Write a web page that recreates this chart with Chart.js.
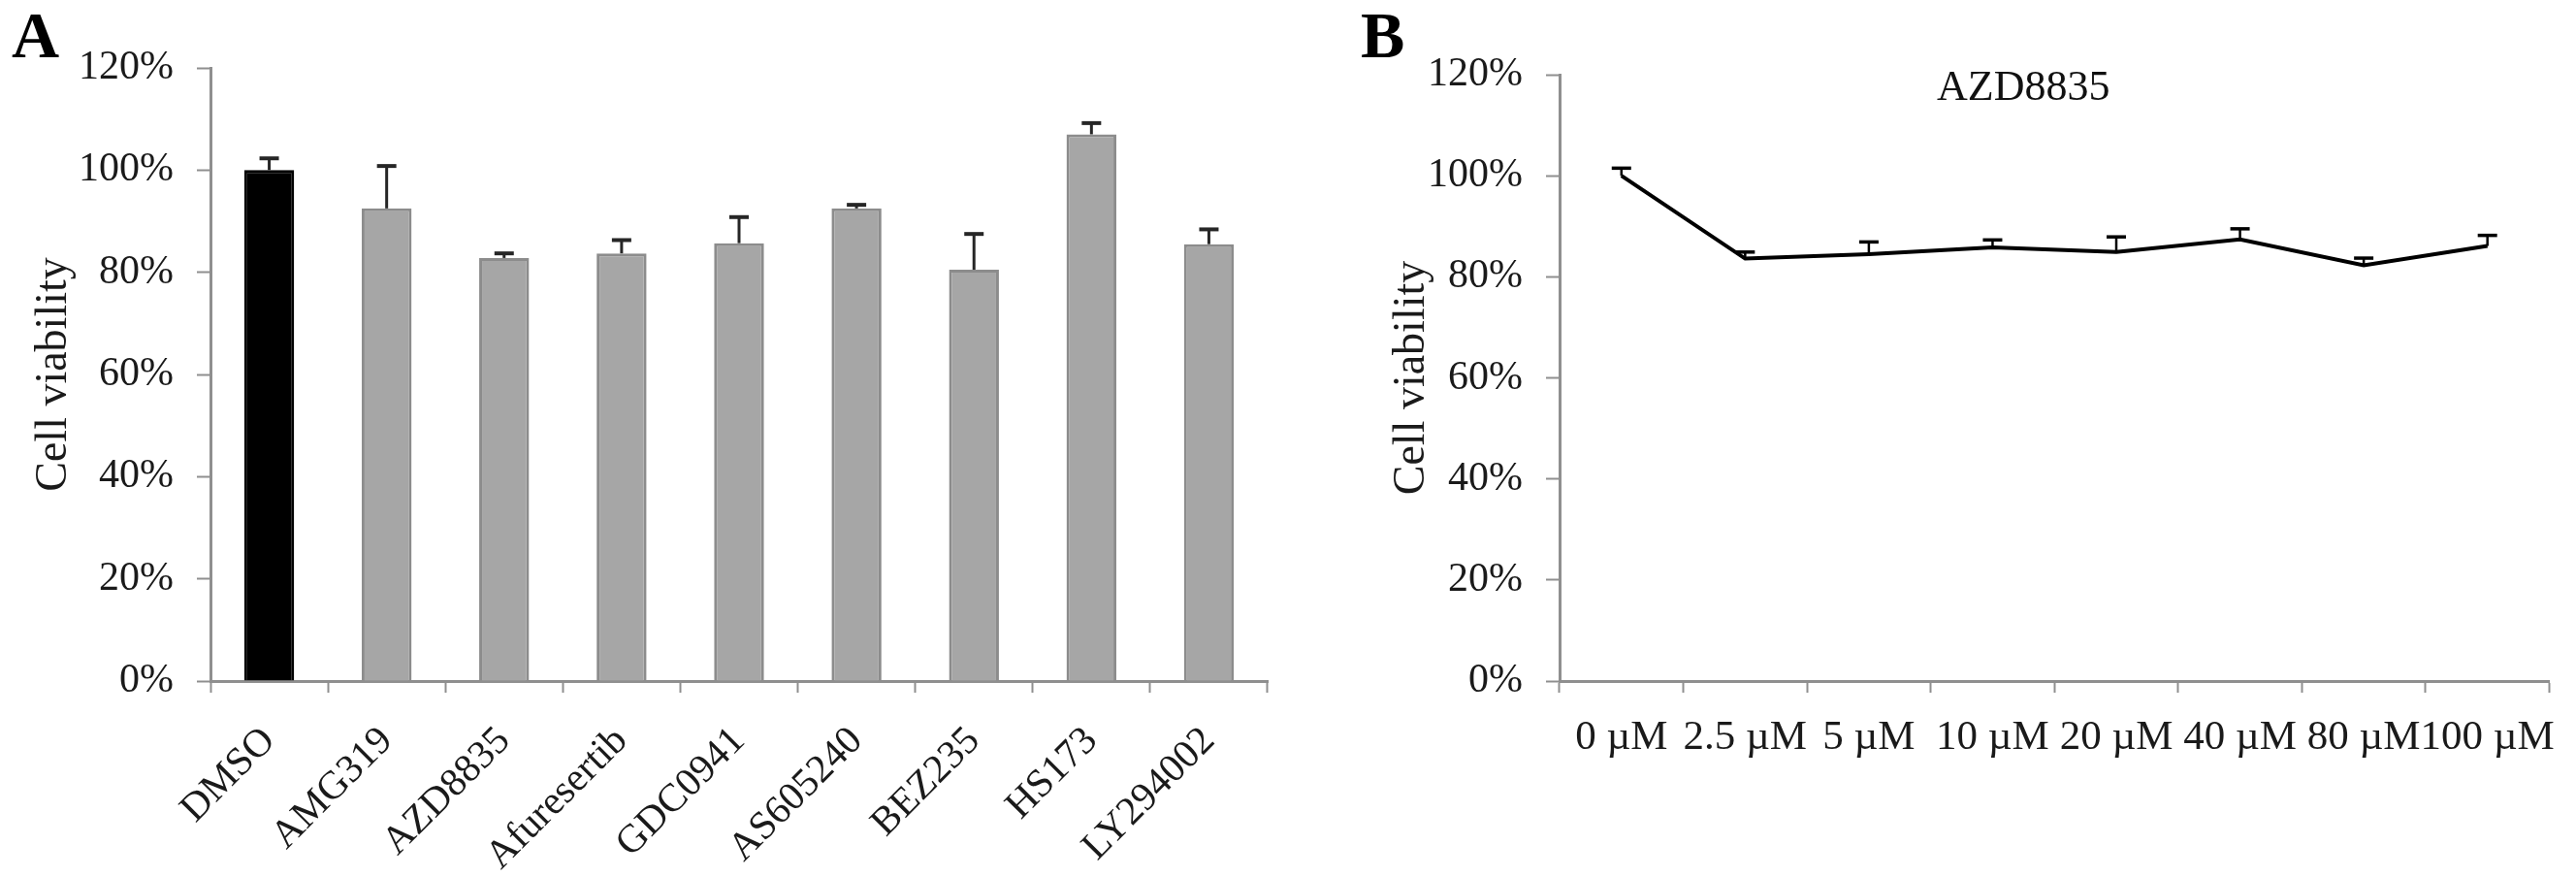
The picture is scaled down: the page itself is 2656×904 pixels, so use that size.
<!DOCTYPE html>
<html>
<head>
<meta charset="utf-8">
<script src="https://cdn.jsdelivr.net/npm/chart.js@4.4.1/dist/chart.umd.min.js"></script>
<style>
  html, body { margin: 0; padding: 0; background: #ffffff; }
  body { width: 2656px; height: 904px; position: relative; overflow: hidden; font-family: "Liberation Serif", "Times New Roman", serif; }
  .panel { position: absolute; top: 0; height: 904px; }
  #wrapA { left: 0; width: 1340px; }
  #wrapB { left: 1380px; width: 1276px; }
  .letter { position: absolute; font-weight: bold; font-size: 68px; line-height: 1; color: #000; }
  #subtitleB { position: absolute; font-size: 44px; line-height: 1; color: #111; }
</style>
</head>
<body>
<div class="panel" id="wrapA"><canvas id="chartA" width="1340" height="904"></canvas></div>
<div class="panel" id="wrapB"><canvas id="chartB" width="1276" height="904"></canvas></div>
<div class="letter" style="left:12px; top:2px;">A</div>
<div class="letter" style="left:1403px; top:2px;">B</div>
<div id="subtitleB" style="left:1997px; top:67px;">AZD8835</div>
<script>
// ---- data ----
const categoriesA = ['DMSO', 'AMG319', 'AZD8835', 'Afuresertib', 'GDC0941', 'AS605240', 'BEZ235', 'HS173', 'LY294002'];
const viabilityA = [100, 92.5, 82.8, 83.7, 85.7, 92.5, 80.5, 107.0, 85.5];
const errorA = [2.3, 8.3, 0.9, 2.6, 5.1, 0.7, 7.0, 2.2, 2.9];

const categoriesB = ['0 µM', '2.5 µM', '5 µM', '10 µM', '20 µM', '40 µM', '80 µM', '100 µM'];
const viabilityB = [100, 83.6, 84.5, 85.8, 84.9, 87.4, 82.3, 86.1];
const errorB = [1.5, 1.3, 2.4, 1.5, 3.0, 2.1, 1.4, 2.1];

const yTickValues = [0, 20, 40, 60, 80, 100, 120];
const yTickLabels = ['0%', '20%', '40%', '60%', '80%', '100%', '120%'];
const yTitle = 'Cell viability';

// ---- styles ----
const FONT = '"Liberation Serif", "Times New Roman", serif';
const AXIS_COLOR = '#8f8f8f';
const TEXT_COLOR = '#1a1a1a';

const errorBarPlugin = {
  id: 'errorBars',
  afterDatasetsDraw(chart, args, opts) {
    const ctx = chart.ctx;
    const meta = chart.getDatasetMeta(0);
    const yScale = chart.scales.y;
    const values = chart.data.datasets[0].data;
    ctx.save();
    ctx.strokeStyle = opts.color;
    ctx.lineCap = 'butt';
    meta.data.forEach((el, i) => {
      const v = values[i];
      const x = el.x;
      const y0 = yScale.getPixelForValue(v);
      const y1 = yScale.getPixelForValue(v + opts.errors[i]);
      ctx.lineWidth = opts.lineWidth;
      ctx.beginPath();
      ctx.moveTo(x, y0);
      ctx.lineTo(x, y1);
      ctx.stroke();
      ctx.lineWidth = opts.capThickness;
      ctx.beginPath();
      ctx.moveTo(x - opts.capHalf, y1);
      ctx.lineTo(x + opts.capHalf, y1);
      ctx.stroke();
    });
    ctx.restore();
  }
};

function yScaleOptions(width, titlePad) {
  return {
    min: 0,
    max: 120,
    afterBuildTicks(scale) { scale.ticks = yTickValues.map(v => ({ value: v })); },
    afterFit(scale) { scale.width = width; },
    ticks: {
      padding: 24,
      color: TEXT_COLOR,
      font: { family: FONT, size: 42 },
      callback: (v) => yTickLabels[yTickValues.indexOf(v)]
    },
    grid: { display: true, drawOnChartArea: false, drawTicks: true, tickLength: 14, tickColor: AXIS_COLOR, tickWidth: 2 },
    border: { display: true, color: AXIS_COLOR, width: 3 },
    title: {
      display: true,
      text: yTitle,
      color: TEXT_COLOR,
      font: { family: FONT, size: 46 },
      padding: { top: titlePad, bottom: 0 }
    }
  };
}

Chart.defaults.font.family = FONT;

// ---- Panel A ----
new Chart(document.getElementById('chartA'), {
  type: 'bar',
  data: {
    labels: categoriesA,
    datasets: [{
      data: viabilityA,
      backgroundColor: categoriesA.map((c, i) => i === 0 ? '#000000' : '#a6a6a6'),
      borderColor: categoriesA.map((c, i) => i === 0 ? '#000000' : '#8c8c8c'),
      borderWidth: 3,
      borderSkipped: 'bottom',
      categoryPercentage: 1.0,
      barPercentage: 0.425
    }]
  },
  options: {
    responsive: false,
    animation: false,
    events: [],
    layout: { padding: { top: 70, left: 0, right: 33, bottom: 0 } },
    plugins: {
      legend: { display: false },
      tooltip: { enabled: false },
      errorBars: { errors: errorA, color: '#262626', lineWidth: 3, capThickness: 4, capHalf: 10 }
    },
    scales: {
      x: {
        offset: true,
        afterFit(scale) { scale.height = 202; },
        ticks: {
          autoSkip: false,
          minRotation: 45,
          maxRotation: 45,
          padding: 26,
          color: TEXT_COLOR,
          font: { family: FONT, size: 41 }
        },
        grid: { display: true, offset: true, drawOnChartArea: false, drawTicks: true, tickLength: 12, tickColor: AXIS_COLOR, tickWidth: 2 },
        border: { display: true, color: AXIS_COLOR, width: 3 }
      },
      y: yScaleOptions(217, 28)
    }
  },
  plugins: [errorBarPlugin]
});

// ---- Panel B ----
new Chart(document.getElementById('chartB'), {
  type: 'line',
  data: {
    labels: categoriesB,
    datasets: [{
      data: viabilityB,
      borderColor: '#000000',
      borderWidth: 4,
      pointRadius: 0,
      tension: 0,
      fill: false
    }]
  },
  options: {
    responsive: false,
    animation: false,
    events: [],
    layout: { padding: { top: 77, left: 0, right: 19, bottom: 0 } },
    plugins: {
      legend: { display: false },
      tooltip: { enabled: false },
      errorBars: { errors: errorB, color: '#000000', lineWidth: 2.5, capThickness: 3.5, capHalf: 10 }
    },
    scales: {
      x: {
        offset: true,
        afterFit(scale) { scale.height = 202; },
        ticks: {
          autoSkip: false,
          maxRotation: 0,
          minRotation: 0,
          padding: 21,
          color: TEXT_COLOR,
          font: { family: FONT, size: 43 }
        },
        grid: { display: true, offset: true, drawOnChartArea: false, drawTicks: true, tickLength: 12, tickColor: AXIS_COLOR, tickWidth: 2 },
        border: { display: true, color: AXIS_COLOR, width: 3 }
      },
      y: yScaleOptions(228, 48)
    }
  },
  plugins: [errorBarPlugin]
});
</script>
</body>
</html>
